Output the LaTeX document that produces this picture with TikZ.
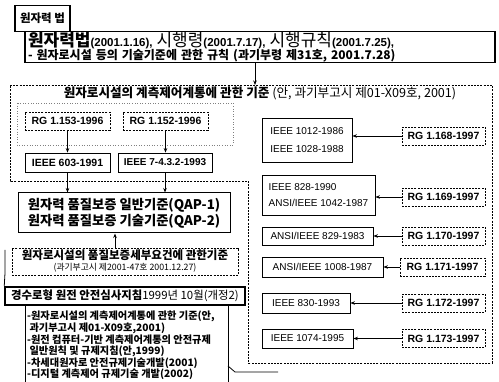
\documentclass[tikz,border=0pt]{standalone}
\usepackage{fontspec}
\setmainfont{Noto Sans CJK KR}
\newfontfamily\lat{Liberation Sans}
\usetikzlibrary{arrows.meta}
\newcommand\fz[2]{\fontsize{#1}{#2}\selectfont}
\begin{document}
\begin{tikzpicture}[x=1pt,y=-1pt,
  solidbox/.style={draw, line width=0.8pt, fill=white, inner sep=0pt, align=center},
  thickbox/.style={draw, line width=1.5pt, fill=white, inner sep=0pt},
  dashbox/.style={draw, dashed, dash pattern=on 2pt off 1.2pt, line width=0.7pt, fill=white, inner sep=0pt, align=center},
  rgbox/.style={dashbox, minimum width=83pt, minimum height=18pt, font=\lat\fz{10.5}{12}\bfseries},
  iebox/.style={solidbox, minimum height=19pt, font=\lat\fz{10}{11}},
  arr/.style={-{Stealth[length=4.5pt,width=3.5pt]}, line width=0.8pt},
  ln/.style={line width=0.8pt}
]
\useasboundingbox (0,0) rectangle (499,382);

% outer dashed region
\draw[dashed, dash pattern=on 2pt off 1.2pt, line width=0.7pt]
  (10,85) -- (492,85) -- (492,363) -- (248,363) -- (248,181) -- (10,181) -- cycle;
% faint dotted inner area
\draw[dotted, gray, line width=0.6pt] (17,103) rectangle (233,145);

% law box
\node[thickbox, minimum width=470pt, minimum height=30pt, text width=464pt, align=left, font=\fz{12}{13.5}] (law) at (260,47)
 {{\fz{17}{13.5}\bfseries 원자력법}{\lat\fz{11.5}{13.5}\bfseries(2001.1.16),\ }{\fz{17}{13.5}시행령}{\lat\fz{11.5}{13.5}\bfseries(2001.7.17),\ }{\fz{17}{13.5}시행규칙}{\lat\fz{11.5}{13.5}\bfseries(2001.7.25),}\\
  {\bfseries - 원자로시설 등의 기술기준에 관한 규칙 (과기부령 제31호, 2001.7.28)}};
\node[thickbox, minimum width=55pt, minimum height=26pt, font=\fz{11.5}{12}\bfseries] (lbl) at (42.5,18.5) {원자력 법};

% region title
\node[inner sep=0pt, font=\fz{12.6}{13}] (ttl) at (260,93) {\bfseries 원자로시설의 계측제어계통에 관한 기준 {\mdseries (안, 과기부고시 제01-X09호, 2001)}};
\coordinate (regtop) at (255,85);
\draw[arr] (law.south -| regtop) -- (regtop);

% left column
\node[rgbox, minimum width=85pt] (rg153) at (67.5,121) {RG 1.153-1996};
\node[rgbox, minimum width=85pt] (rg152) at (165.5,121) {RG 1.152-1996};
\node[iebox, minimum width=85pt, font=\lat\fz{10.5}{12}\bfseries] (i603) at (67.5,162.5) {IEEE 603-1991};
\node[iebox, minimum width=94pt, font=\lat\fz{10}{12}\bfseries] (i7432) at (165,162.5) {IEEE 7-4.3.2-1993};
\draw[arr] (rg153) -- (i603);
\draw[arr] (rg152.south) -- (rg152.south |- i7432.north);

\node[solidbox, line width=1pt, minimum width=212pt, minimum height=40pt, font=\fz{13.3}{16}\bfseries] (qap) at (124,213)
  {원자력 품질보증 일반기준(QAP-1)\\원자력 품질보증 기술기준(QAP-2)};
\draw[arr] (i603.south) -- (i603.south |- qap.north);
\draw[arr] (i7432.south) -- (i7432.south |- qap.north);

\node[dashbox, minimum width=226pt, minimum height=27pt, font=\fz{8.8}{11}] (qad) at (125,261.5)
  {{\fz{11.5}{11}\bfseries 원자로시설의 품질보증세부요건에 관한기준}\\(과기부고시 제2001-47호 2001.12.27)};
\draw[arr] (qad.north -| 115,0) -- (qap.south -| 115,0);

\node[thickbox, minimum width=240pt, minimum height=18pt, font=\fz{11.4}{12}] (gs) at (125,296)
  {\bfseries 경수로형 원전 안전심사지침{\mdseries 1999년 10월(개정2)}};

\coordinate (b1) at (5,250);
\coordinate (b2) at (5,273);
\draw[ln] (b1) -- (b2) -- (gs.north west);

\node[anchor=north west, align=left, inner sep=0pt, font=\fz{10.2}{10.6}\bfseries] (bul) at (27,311)
  {-원자로시설의 계측제어계통에 관한 기준(안,\\
   \ 과기부고시 제01-X09호,2001)\\
   -원전 컴퓨터-기반 계측제어계통의 안전규제\\
   \ 일반원칙 및 규제지침(안,1999)\\
   -차세대원자로 안전규제기술개발(2001)\\
   -디지털 계측제어 규제기술 개발(2002)};
\coordinate (bl) at (25,384);
\coordinate (br) at (228,384);
\draw[ln] (gs.south -| bl) -- (bl);
\draw[ln] (gs.south -| br) -- (br);
\coordinate (c1) at (228,366);
\coordinate (c2) at (235,372);
\coordinate (c3) at (278,372);
\draw[ln] (c1) -- (c2) -- (c3);

% right column
\node[iebox, minimum width=90pt, minimum height=44pt, align=left, font=\lat\fz{10}{18}] (i1012) at (307,140) {IEEE 1012-1986\\IEEE 1028-1988};
\node[rgbox] (rg168) at (443.5,136) {RG 1.168-1997};
\draw[arr] (rg168.west) -- (rg168.west -| i1012.east);

\node[iebox, minimum width=113pt, minimum height=40pt, align=left, font=\lat\fz{10}{16}] (i828) at (318.5,195) {IEEE 828-1990\\ANSI/IEEE 1042-1987};
\node[rgbox] (rg169) at (443.5,197) {RG 1.169-1997};
\draw[arr] (rg169.west) -- (rg169.west -| i828.east);

\node[iebox, minimum width=111pt, minimum height=18pt] (i829) at (317.5,236) {ANSI/IEEE 829-1983};
\node[rgbox] (rg170) at (443.5,236) {RG 1.170-1997};
\draw[arr] (rg170) -- (i829);

\node[iebox, minimum width=121pt, minimum height=20pt] (i1008) at (322.5,267) {ANSI/IEEE 1008-1987};
\node[rgbox, minimum width=85pt] (rg171) at (442.5,267) {RG 1.171-1997};
\draw[arr] (rg171) -- (i1008);

\node[iebox, minimum width=88pt, minimum height=20pt] (i830) at (306,303) {IEEE 830-1993};
\node[rgbox] (rg172) at (443.5,303) {RG 1.172-1997};
\draw[arr] (rg172) -- (i830);

\node[iebox, minimum width=91pt, minimum height=19pt] (i1074) at (307.5,338.5) {IEEE 1074-1995};
\node[rgbox] (rg173) at (443.5,338.5) {RG 1.173-1997};
\draw[arr] (rg173) -- (i1074);
\end{tikzpicture}
\end{document}
